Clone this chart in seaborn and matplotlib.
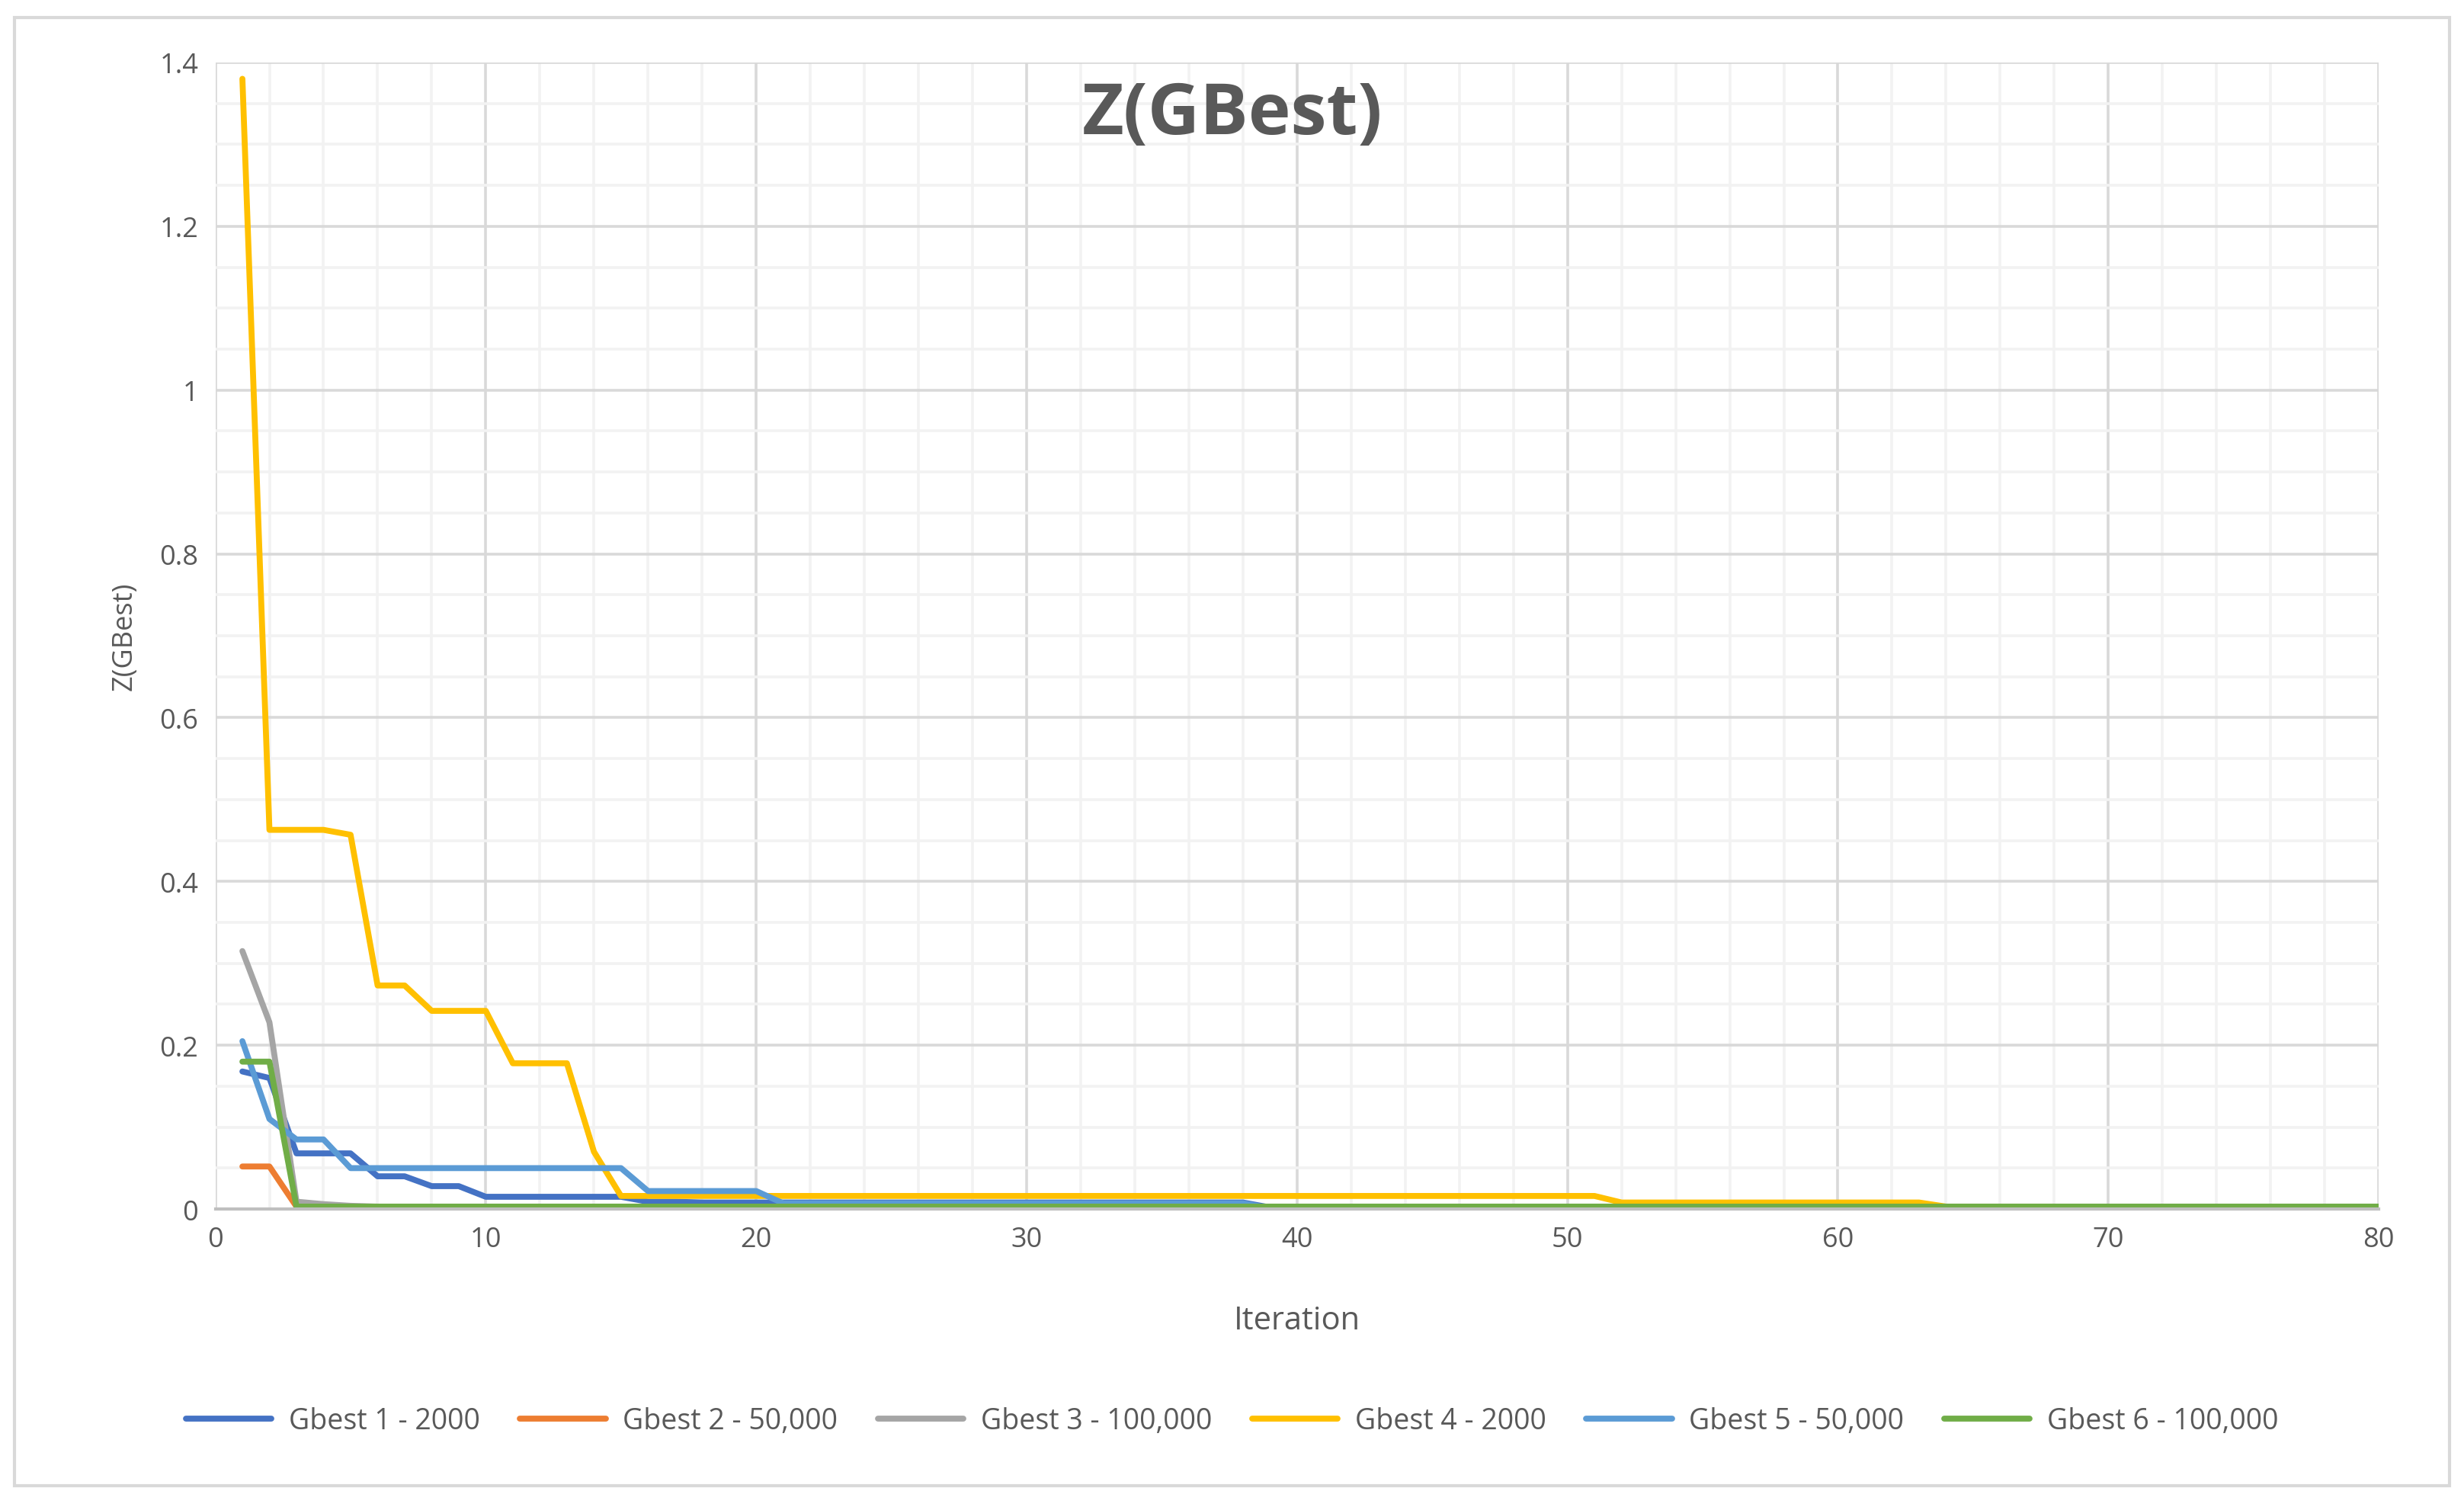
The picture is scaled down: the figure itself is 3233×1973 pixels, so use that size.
import numpy as np
import pandas as pd
import seaborn as sns
import matplotlib.pyplot as plt
from matplotlib.ticker import MultipleLocator
from matplotlib.patches import Rectangle


def runs(pairs):
    # expand (value, count) pairs into one value per iteration
    out = []
    for v, n in pairs:
        out += [v] * n
    return out


iterations = list(range(1, 81))
gbest1 = runs([(0.168, 1), (0.16, 1), (0.068, 3), (0.04, 2), (0.028, 2), (0.015, 6),
               (0.009, 2), (0.008, 21), (0.002, 42)])
gbest2 = runs([(0.052, 2), (0.003, 1), (0.001, 77)])
gbest3 = runs([(0.315, 1), (0.228, 1), (0.009, 1), (0.006, 1), (0.004, 1), (0.003, 75)])
gbest4 = runs([(1.38, 1), (0.463, 3), (0.457, 1), (0.273, 2), (0.242, 3), (0.178, 3),
               (0.07, 1), (0.016, 37), (0.008, 12), (0.003, 5), (0.002, 12)])
gbest5 = runs([(0.205, 1), (0.11, 1), (0.085, 2), (0.05, 11), (0.022, 5), (0.007, 18),
               (0.001, 42)])
gbest6 = runs([(0.18, 2), (0.003, 78)])

names = ['Gbest 1 - 2000', 'Gbest 2 - 50,000', 'Gbest 3 - 100,000',
         'Gbest 4 - 2000', 'Gbest 5 - 50,000', 'Gbest 6 - 100,000']
series = [gbest1, gbest2, gbest3, gbest4, gbest5, gbest6]
colors = ['#4472C4', '#ED7D31', '#A5A5A5', '#FFC000', '#5B9BD5', '#70AD47']

df = pd.concat([pd.DataFrame({'Iteration': iterations, 'Z': s, 'series': n})
                for n, s in zip(names, series)])

sns.set_style('white')
plt.rcParams['font.family'] = ['Open Sans', 'DejaVu Sans']

fig = plt.figure(figsize=(16.165, 9.87), dpi=200)
ax = fig.add_axes([0.0874, 0.196, 0.878, 0.762])
fig.patches.append(Rectangle((0.006, 0.012), 0.988, 0.976, transform=fig.transFigure,
                             fill=False, edgecolor='#D9D9D9', linewidth=1.5))

sns.lineplot(data=df, x='Iteration', y='Z', hue='series', palette=colors,
             linewidth=2.8, ax=ax, legend=False)

ax.set_xlim(0, 80)
ax.set_ylim(0, 1.4)
ax.xaxis.set_major_locator(MultipleLocator(10))
ax.xaxis.set_minor_locator(MultipleLocator(2))
ax.yaxis.set_minor_locator(MultipleLocator(0.05))
ax.set_yticks([0, 0.2, 0.4, 0.6, 0.8, 1.0, 1.2, 1.4])
ax.set_yticklabels(['0', '0.2', '0.4', '0.6', '0.8', '1', '1.2', '1.4'])
ax.grid(which='major', color='#D9D9D9', linewidth=1.3)
ax.grid(which='minor', color='#F2F2F2', linewidth=1.3)
ax.set_axisbelow(True)
for s in ['top', 'right', 'left']:
    ax.spines[s].set_visible(False)
ax.spines['bottom'].set_color('#BFBFBF')
ax.spines['bottom'].set_linewidth(1.5)
ax.tick_params(which='both', length=0, labelsize=13, colors='#595959', pad=8)
ax.set_xlabel('Iteration', fontsize=15, color='#595959', labelpad=24)
ax.set_ylabel('Z(GBest)', fontsize=13, color='#595959', labelpad=10)
ax.text(0.47, 0.985, 'Z(GBest)', transform=ax.transAxes, ha='center', va='top',
        fontsize=34, fontweight='bold', color='#595959')

handles = [plt.Line2D([], [], color=c, linewidth=2.8) for c in colors]
fig.legend(handles, names, loc='center', bbox_to_anchor=(0.5, 0.055), ncol=6,
           frameon=False, fontsize=13.5, labelcolor='#595959', handlelength=3.0,
           handletextpad=0.6, columnspacing=1.4)

fig.savefig('out.png', dpi=200)
